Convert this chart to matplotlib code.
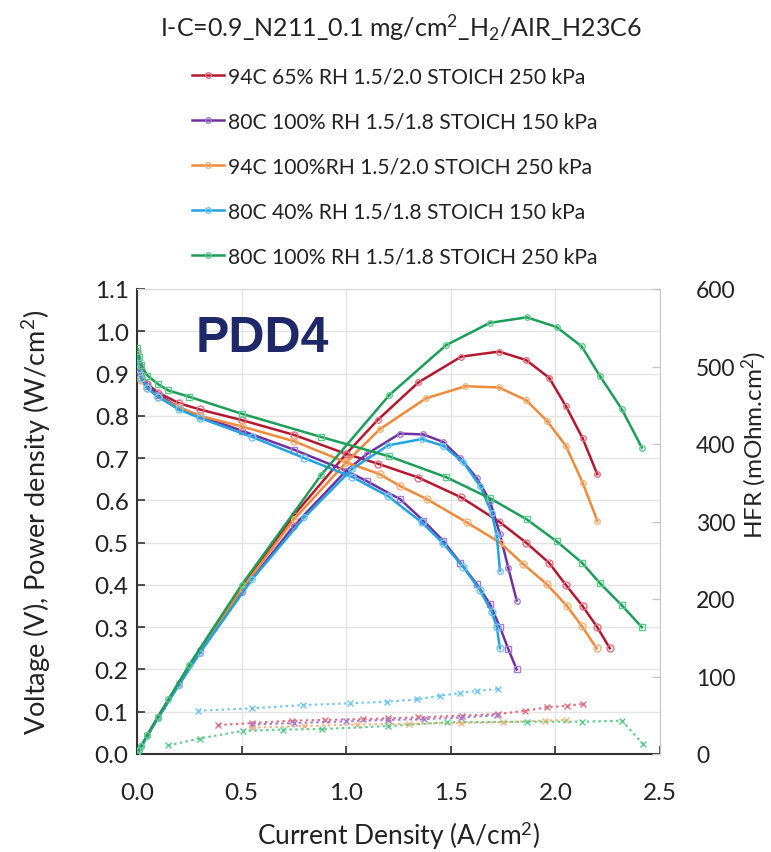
import numpy as np
import matplotlib
matplotlib.use('Agg')
import matplotlib.pyplot as plt
from matplotlib.lines import Line2D

plt.rcParams['font.family'] = ['Lato', 'DejaVu Sans']
plt.rcParams['mathtext.fontset'] = 'custom'
plt.rcParams['mathtext.rm'] = 'Lato'
plt.rcParams['mathtext.it'] = 'Lato:italic'

# ---------------------------------------------------------
# Data (current density in A/cm2)
# ---------------------------------------------------------
labels = [
    '94C 65% RH 1.5/2.0 STOICH 250 kPa',
    '80C 100% RH 1.5/1.8 STOICH 150 kPa',
    '94C 100%RH 1.5/2.0 STOICH 250 kPa',
    '80C 40% RH 1.5/1.8 STOICH 150 kPa',
    '80C 100% RH 1.5/1.8 STOICH 250 kPa',
]
colors = ['#B5172F', '#7032A0', '#EE8A3A', '#21A2E2', '#1C9E58']
marker_colors = ['#E07080', '#A57CD0', '#F6B27C', '#72C6F0', '#5FCB8E']

# 94C 65% RH
red_i_v = [0, 0.01, 0.02, 0.05, 0.1, 0.2, 0.3, 0.5, 0.75, 1.0, 1.15, 1.345, 1.55, 1.73, 1.86, 1.97, 2.05, 2.13, 2.2, 2.26]
red_v = [0.95, 0.92, 0.90, 0.875, 0.855, 0.83, 0.815, 0.79, 0.755, 0.71, 0.687, 0.654, 0.607, 0.55, 0.50, 0.452, 0.40, 0.35, 0.30, 0.25]
red_i_p = [0, 0.05, 0.1, 0.2, 0.3, 0.5, 0.75, 1.0, 1.15, 1.345, 1.55, 1.73, 1.86, 1.97, 2.05, 2.13, 2.2]
red_p = [0, 0.045, 0.087, 0.168, 0.245, 0.395, 0.565, 0.71, 0.79, 0.879, 0.94, 0.952, 0.932, 0.89, 0.823, 0.747, 0.662]
red_i_hfr = [0.389, 0.55, 0.739, 0.9, 1.082, 1.2, 1.345, 1.552, 1.727, 1.855, 1.958, 2.054, 2.13]
red_hfr = [37.4, 40, 43, 44, 45, 46, 47.3, 49.4, 51.6, 55.8, 60.2, 62.3, 64.5]

# 80C 100% RH 150 kPa
pur_i_v = [0, 0.01, 0.02, 0.05, 0.1, 0.2, 0.3, 0.5, 0.75, 1.0, 1.1, 1.257, 1.369, 1.464, 1.544, 1.624, 1.687, 1.735, 1.775, 1.815]
pur_v = [0.95, 0.91, 0.89, 0.87, 0.85, 0.82, 0.80, 0.765, 0.72, 0.67, 0.645, 0.603, 0.552, 0.504, 0.453, 0.402, 0.355, 0.30, 0.248, 0.20]
pur_i_p = pur_i_v
pur_p = [0, 0.009, 0.018, 0.044, 0.085, 0.164, 0.24, 0.383, 0.54, 0.67, 0.71, 0.758, 0.756, 0.738, 0.70, 0.653, 0.599, 0.52, 0.44, 0.363]
pur_i_hfr = [0.55, 0.75, 1.0, 1.2, 1.37, 1.55, 1.72]
pur_hfr = [38, 40, 42, 44, 45, 47, 50]

# 94C 100% RH
ora_i_v = [0, 0.01, 0.02, 0.05, 0.1, 0.2, 0.3, 0.5, 0.75, 1.0, 1.16, 1.257, 1.385, 1.576, 1.735, 1.847, 1.958, 2.054, 2.126, 2.197]
ora_v = [0.95, 0.90, 0.885, 0.865, 0.845, 0.82, 0.80, 0.775, 0.74, 0.69, 0.662, 0.634, 0.603, 0.548, 0.50, 0.449, 0.402, 0.351, 0.303, 0.25]
ora_i_p = [0, 0.05, 0.1, 0.2, 0.3, 0.5, 0.75, 1.0, 1.16, 1.38, 1.57, 1.73, 1.86, 1.96, 2.05, 2.13, 2.2]
ora_p = [0, 0.044, 0.086, 0.165, 0.24, 0.39, 0.555, 0.69, 0.768, 0.841, 0.870, 0.867, 0.837, 0.788, 0.729, 0.642, 0.552]
ora_i_hfr = [0.55, 0.8, 1.05, 1.3, 1.55, 1.75, 1.95, 2.05]
ora_hfr = [34, 36, 38, 39, 40, 41, 43, 44]

# 80C 40% RH
cya_i_v = [0, 0.01, 0.02, 0.05, 0.1, 0.2, 0.3, 0.55, 0.8, 1.03, 1.2, 1.361, 1.464, 1.56, 1.64, 1.695, 1.72, 1.735]
cya_v = [0.94, 0.91, 0.89, 0.865, 0.845, 0.815, 0.795, 0.75, 0.70, 0.655, 0.61, 0.548, 0.498, 0.442, 0.387, 0.337, 0.30, 0.25]
cya_i_p = cya_i_v
cya_p = [0, 0.009, 0.018, 0.043, 0.085, 0.163, 0.239, 0.413, 0.56, 0.675, 0.73, 0.745, 0.729, 0.69, 0.634, 0.571, 0.516, 0.434]
cya_i_hfr = [0.293, 0.548, 0.795, 1.018, 1.194, 1.337, 1.448, 1.544, 1.624, 1.727]
cya_hfr = [55.8, 58.9, 63.2, 65.4, 67.5, 70.5, 75.2, 78.6, 81.6, 83.8]

# 80C 100% RH 250 kPa
gre_i_v = [0, 0.01, 0.02, 0.05, 0.1, 0.15, 0.25, 0.5, 0.88, 1.206, 1.477, 1.687, 1.863, 2.006, 2.126, 2.213, 2.317, 2.413]
gre_v = [0.96, 0.94, 0.92, 0.895, 0.875, 0.86, 0.845, 0.805, 0.75, 0.704, 0.655, 0.605, 0.555, 0.503, 0.453, 0.404, 0.352, 0.30]
gre_i_p = gre_i_v
gre_p = [0, 0.009, 0.018, 0.045, 0.088, 0.129, 0.211, 0.40, 0.66, 0.849, 0.967, 1.02, 1.033, 1.01, 0.964, 0.894, 0.816, 0.725]
gre_i_hfr = [0.15, 0.3, 0.508, 0.7, 0.883, 1.2, 1.48, 1.863, 2.126, 2.317, 2.42]
gre_hfr = [11, 20, 30, 31.5, 32.2, 36, 40.9, 41.7, 41.7, 43, 12.9]

x_ticks = [0.0, 0.5, 1.0, 1.5, 2.0, 2.5]
y_ticks = [0.0, 0.1, 0.2, 0.3, 0.4, 0.5, 0.6, 0.7, 0.8, 0.9, 1.0, 1.1]
hfr_ticks = [0, 100, 200, 300, 400, 500, 600]

series = [
    (red_i_v, red_v, red_i_p, red_p, red_i_hfr, red_hfr),
    (pur_i_v, pur_v, pur_i_p, pur_p, pur_i_hfr, pur_hfr),
    (ora_i_v, ora_v, ora_i_p, ora_p, ora_i_hfr, ora_hfr),
    (cya_i_v, cya_v, cya_i_p, cya_p, cya_i_hfr, cya_hfr),
    (gre_i_v, gre_v, gre_i_p, gre_p, gre_i_hfr, gre_hfr),
]


def main():
    fig = plt.figure(figsize=(7.71, 8.53), dpi=100)
    ax = fig.add_axes([137 / 771, 1 - 755 / 853, 523 / 771, 465 / 853])
    ax2 = ax.twinx()

    for k, (iv, v, ip, p, ih, h) in enumerate(series):
        c, mc = colors[k], marker_colors[k]
        vm = 's' if k in (1, 4) else 'o'
        ax.plot(iv, v, color=c, lw=1.8, marker=vm, ms=5, mfc='none', mec=mc, mew=1.0, zorder=3)
        ax.plot(ip, p, color=c, lw=1.8, marker='o', ms=4, mfc='none', mec=mc, mew=1.0, zorder=3)
        ax2.plot(ih, h, color=mc, lw=1.5, ls=(0, (1.2, 1.6)), marker='x', ms=4, mec=mc, mew=1.0)

    ax.set_xlim(0, 2.5)
    ax.set_ylim(0, 1.1)
    ax2.set_ylim(0, 600)
    ax.set_xticks(x_ticks)
    ax.set_xticklabels([f'{t:.1f}' for t in x_ticks])
    ax.set_yticks(y_ticks)
    ax.set_yticklabels([f'{t:.1f}' for t in y_ticks])
    ax2.set_yticks(hfr_ticks)

    ax.grid(True, color='#E4E4E4', lw=1.0)
    ax.set_axisbelow(True)
    ax.tick_params(direction='in', length=6, width=1.2, colors='#333333', labelsize=17.5, labelcolor='#222222')
    ax.tick_params(axis='x', pad=20)
    ax.tick_params(axis='y', pad=6)
    ax2.tick_params(direction='in', length=6, width=1.0, colors='#C8C8C8', labelsize=16.5, labelcolor='#222222', pad=26)

    for side in ('left', 'bottom'):
        ax.spines[side].set_color('#333333')
        ax.spines[side].set_linewidth(1.5)
    ax.spines['top'].set_color('#D8D8D8')
    ax.spines['right'].set_visible(False)
    ax2.spines['right'].set_color('#C8C8C8')
    for side in ('left', 'bottom', 'top'):
        ax2.spines[side].set_visible(False)

    ax.set_xlabel('Current Density (A/cm$^2$)', fontsize=19, color='#222222')
    ax.xaxis.set_label_coords(0.5, -0.14)
    ax.set_ylabel('Voltage (V), Power density (W/cm$^2$)', fontsize=19.5, color='#222222')
    ax.yaxis.set_label_coords(-0.16, 0.5)
    ax2.set_ylabel('HFR (mOhm.cm$^2$)', fontsize=17.5, color='#222222')
    ax2.yaxis.set_label_coords(1.152, 0.667)

    ax.text(0.6, 0.985, 'PDD4', fontsize=36, fontweight='bold', color='#1E2768',
            family='Liberation Sans', ha='center', va='center')

    fig.text(0.52, 1 - 28 / 853, 'I-C=0.9_N211_0.1 mg/cm$^2$_H$_2$/AIR_H23C6',
             fontsize=18, ha='center', va='center', color='#222222')

    handles = [Line2D([], [], color=colors[k], lw=1.8, marker='o', ms=4, mfc='none',
                      mec=marker_colors[k]) for k in range(len(labels))]
    fig.legend(handles, labels, loc='upper left', bbox_to_anchor=(181 / 771, 1 - 57 / 853),
               frameon=False, fontsize=15.2, handlelength=1.55, handletextpad=0.2,
               labelspacing=1.18, borderpad=0, labelcolor='#222222')

    fig.savefig('out.png', dpi=100)
    plt.close(fig)


if __name__ == '__main__':
    main()
